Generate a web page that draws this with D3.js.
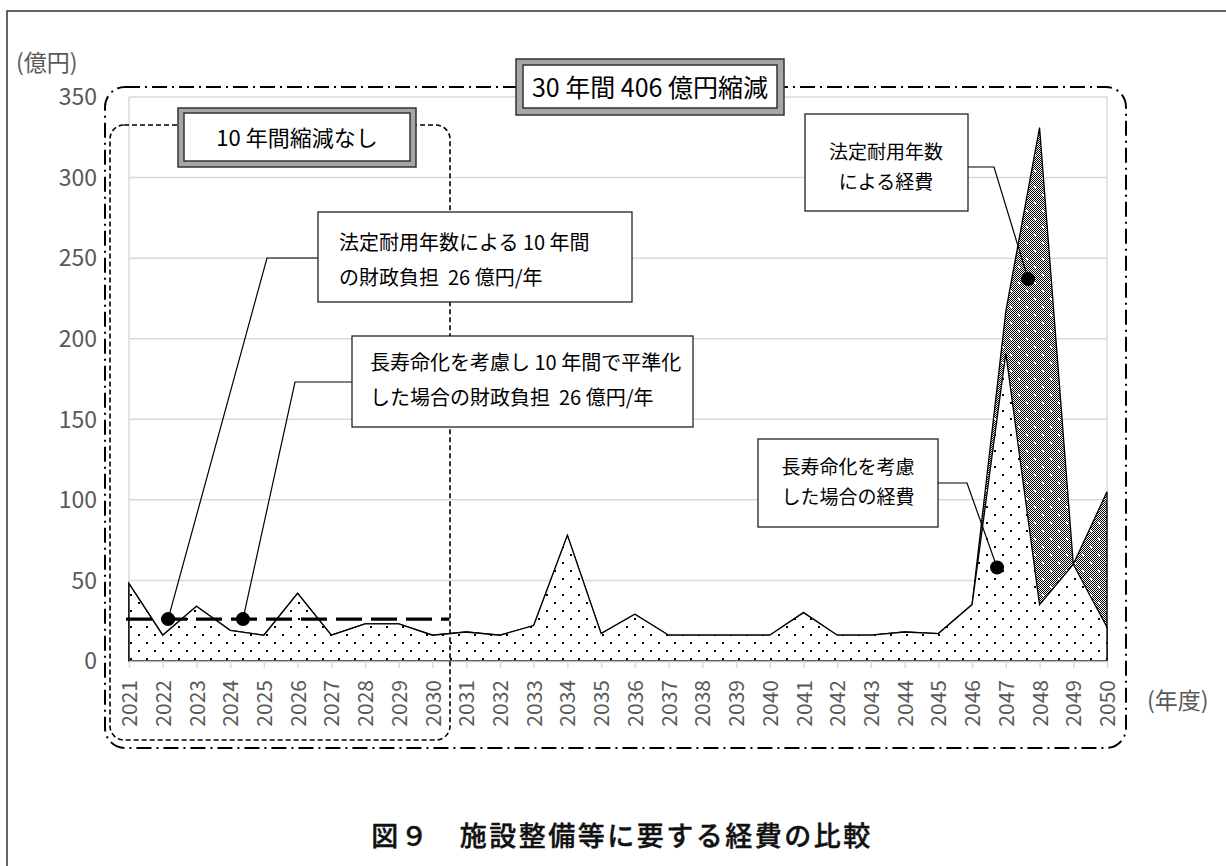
<!DOCTYPE html>
<html><head><meta charset="utf-8">
<script src="https://cdn.jsdelivr.net/npm/d3@7"></script>
<style>
html,body{margin:0;padding:0;background:#fff;}
svg{display:block;}
text{font-family:"Noto Sans CJK JP","Noto Sans",sans-serif;white-space:pre;}
</style></head><body>
<svg id="chart" width="1226" height="866"></svg>
<script>
// ---------- data ----------
const years = ["2021","2022","2023","2024","2025","2026","2027","2028","2029","2030",
               "2031","2032","2033","2034","2035","2036","2037","2038","2039","2040",
               "2041","2042","2043","2044","2045","2046","2047","2048","2049","2050"];
// 長寿命化を考慮した場合の経費 (億円)
const longLifeCost = [48,16,34,19,16,42,16,23,23,16,18,16,22,78,17,29,16,16,16,16,30,16,16,18,17,35,191,35,60,21];
// 法定耐用年数による経費 (億円)
const legalLifeCost = [48,16,34,19,16,42,16,23,23,16,18,16,22,78,17,29,16,16,16,16,30,16,16,18,17,35,217,331,60,105];
const yTicks = [0,50,100,150,200,250,300,350];
const avgBurden = 26;              // 10年間の財政負担 億円/年
const avgRange = ["2021","2030"];
// marker points (fractional year, value)
const markerYears  = [2022.16, 2024.38, 2046.74, 2047.66];
const markerValues = [26, 26, 58, 237];

const titleText = "図９　施設整備等に要する経費の比較";
const yUnit = "(億円)";
const xUnit = "(年度)";

// ---------- layout ----------
const L = 129, R = 1107, T = 97, B = 661;
const svg = d3.select("#chart");
const defs = svg.append("defs");

// crosshatch pattern: 1px checker with white specks
const px = defs.append("pattern").attr("id","cross").attr("patternUnits","userSpaceOnUse").attr("width",16).attr("height",16);
px.append("rect").attr("width",16).attr("height",16).attr("fill","#fff");
const cells = [];
for (let i=0;i<16;i++) for (let j=0;j<16;j++) if ((i+j)%2===0) cells.push([i,j]);
px.selectAll("rect.c").data(cells).join("rect").attr("class","c")
  .attr("x",d=>d[0]).attr("y",d=>d[1]).attr("width",1).attr("height",1).attr("fill","#000");
[[2,2],[10,10]].forEach(([a,b])=>px.append("rect").attr("x",a).attr("y",b).attr("width",2).attr("height",2).attr("fill","#fff"));

const pd = defs.append("pattern").attr("id","dots").attr("patternUnits","userSpaceOnUse").attr("width",16).attr("height",16);
pd.append("rect").attr("width",16).attr("height",16).attr("fill","#fff");
[[2,2],[10,10]].forEach(([a,b])=>pd.append("rect").attr("x",a).attr("y",b).attr("width",2).attr("height",2).attr("fill","#000"));

// outer frame
svg.append("rect").attr("x",7).attr("y",11).attr("width",1240).attr("height",900)
  .attr("fill","none").attr("stroke","#333").attr("stroke-width",1.5);

// scales
const x = d3.scalePoint().domain(years).range([L,R]);
const xNum = d3.scaleLinear().domain([+years[0], +years[years.length-1]]).range([L,R]);
const y = d3.scaleLinear().domain([0,350]).range([B,T]);
const step = x.step();

// gridlines
svg.append("g").selectAll("line").data(yTicks.filter(v=>v>0)).join("line")
  .attr("x1",L).attr("x2",R).attr("y1",d=>y(d)).attr("y2",d=>y(d))
  .attr("stroke","#d9d9d9").attr("stroke-width",1.5);
svg.append("line").attr("x1",L).attr("x2",L).attr("y1",T).attr("y2",B).attr("stroke","#d9d9d9").attr("stroke-width",1.5);
svg.append("line").attr("x1",R).attr("x2",R).attr("y1",T).attr("y2",B).attr("stroke","#d9d9d9").attr("stroke-width",1.5);

// areas
const area = d3.area().x((d,i)=>x(years[i])).y0(y(0)).y1(d=>y(d));
svg.append("path").datum(legalLifeCost).attr("d",area)
  .attr("fill","url(#cross)").attr("stroke","#000").attr("stroke-width",1.3);
svg.append("path").datum(longLifeCost).attr("d",area)
  .attr("fill","url(#dots)").attr("stroke","#000").attr("stroke-width",1.3);

// x axis
const xAxis = svg.append("g").attr("transform",`translate(0,${B})`)
  .call(d3.axisBottom(x).tickSize(7).tickSizeOuter(0));
xAxis.select(".domain").attr("stroke","#bfbfbf").attr("stroke-width",1.5);
xAxis.selectAll(".tick line").attr("stroke","#d9d9d9").attr("stroke-width",1.5);
xAxis.selectAll(".tick text")
  .attr("transform","rotate(-90)").attr("text-anchor","end")
  .attr("x",-19).attr("y",0).attr("dy","0.36em")
  .attr("font-size",21).attr("fill","#595959")
  .attr("font-family",'"Noto Sans CJK JP","Noto Sans",sans-serif');

// y axis labels
svg.append("g").selectAll("text").data(yTicks).join("text")
  .attr("x",97).attr("y",d=>y(d)).attr("dy","0.36em").attr("text-anchor","end")
  .attr("font-size",23).attr("fill","#595959").text(d=>d);

svg.append("text").attr("x",16).attr("y",71).attr("font-size",23).attr("fill","#595959").text(yUnit);
svg.append("text").attr("x",1147).attr("y",701).attr("dy","0.36em").attr("font-size",23).attr("fill","#595959").text(xUnit);

// dashed average line
svg.append("line")
  .attr("x1",x(avgRange[0])-3).attr("x2",x(avgRange[1])+step/2)
  .attr("y1",y(avgBurden)).attr("y2",y(avgBurden))
  .attr("stroke","#000").attr("stroke-width",3.2).attr("stroke-dasharray","26,9");

// dashed rounded rects
svg.append("rect").attr("x",105).attr("y",87).attr("width",1021).attr("height",661).attr("rx",20).attr("ry",20)
  .attr("fill","none").attr("stroke","#000").attr("stroke-width",2).attr("stroke-dasharray","15,5,2,5");
svg.append("rect").attr("x",110).attr("y",125).attr("width",340).attr("height",615).attr("rx",14).attr("ry",14)
  .attr("fill","none").attr("stroke","#000").attr("stroke-width",1.6).attr("stroke-dasharray","5,3");

// double-bordered label boxes
function doubleBox(x0,y0,w,h,inset,label,fs){
  svg.append("rect").attr("x",x0).attr("y",y0).attr("width",w).attr("height",h)
    .attr("fill","#a6a6a6").attr("stroke","#333").attr("stroke-width",1.5);
  svg.append("rect").attr("x",x0+inset).attr("y",y0+inset-1).attr("width",w-2*inset).attr("height",h-2*inset+1)
    .attr("fill","#fff").attr("stroke","#333").attr("stroke-width",1.5);
  svg.append("text").attr("x",x0+w/2).attr("y",y0+h/2+1).attr("dy","0.36em").attr("text-anchor","middle")
    .attr("font-size",fs).attr("fill","#000").text(label);
}
doubleBox(516,59,268,56,7,"30 年間 406 億円縮減",25);
doubleBox(178,108,238,59,6,"10 年間縮減なし",22);

// callouts
const callouts = [
  {box:[318,212,314,90], lines:["法定耐用年数による 10 年間","の財政負担  26 億円/年"], tx:339, anchor:"start", ly:[243,278], fs:20, from:[318,258], elbow:267, m:0},
  {box:[352,336,341,91], lines:["長寿命化を考慮し 10 年間で平準化","した場合の財政負担  26 億円/年"], tx:370, anchor:"start", ly:[363,398], fs:20, from:[352,382], elbow:295, m:1},
  {box:[805,114,163,97], lines:["法定耐用年数","による経費"], tx:886, anchor:"middle", ly:[152,182], fs:19, from:[968,167], elbow:994, m:3},
  {box:[758,439,180,88], lines:["長寿命化を考慮","した場合の経費"], tx:848, anchor:"middle", ly:[467,497], fs:19, from:[938,483], elbow:967, m:2}
];
callouts.forEach(c=>{
  const mx = xNum(markerYears[c.m]), my = y(markerValues[c.m]);
  svg.append("polyline").attr("points",`${c.from[0]},${c.from[1]} ${c.elbow},${c.from[1]} ${mx},${my}`)
    .attr("fill","none").attr("stroke","#000").attr("stroke-width",1.2);
  svg.append("rect").attr("x",c.box[0]).attr("y",c.box[1]).attr("width",c.box[2]).attr("height",c.box[3])
    .attr("fill","#fff").attr("stroke","#222").attr("stroke-width",1.3);
  c.lines.forEach((t,i)=>svg.append("text").attr("x",c.tx).attr("y",c.ly[i]).attr("dy","0.36em")
    .attr("text-anchor",c.anchor).attr("font-size",c.fs).attr("fill","#000").text(t));
});

// markers
svg.append("g").selectAll("circle").data(markerYears).join("circle")
  .attr("cx",d=>xNum(d)).attr("cy",(d,i)=>y(markerValues[i])).attr("r",7).attr("fill","#000");

// title
svg.append("text").attr("x",622).attr("y",836).attr("dy","0.36em").attr("text-anchor","middle")
  .attr("font-size",27).attr("font-weight","500").attr("letter-spacing",2.5)
  .attr("fill","#111").attr("stroke","#111").attr("stroke-width",0.4).text(titleText);
</script>
</body></html>
